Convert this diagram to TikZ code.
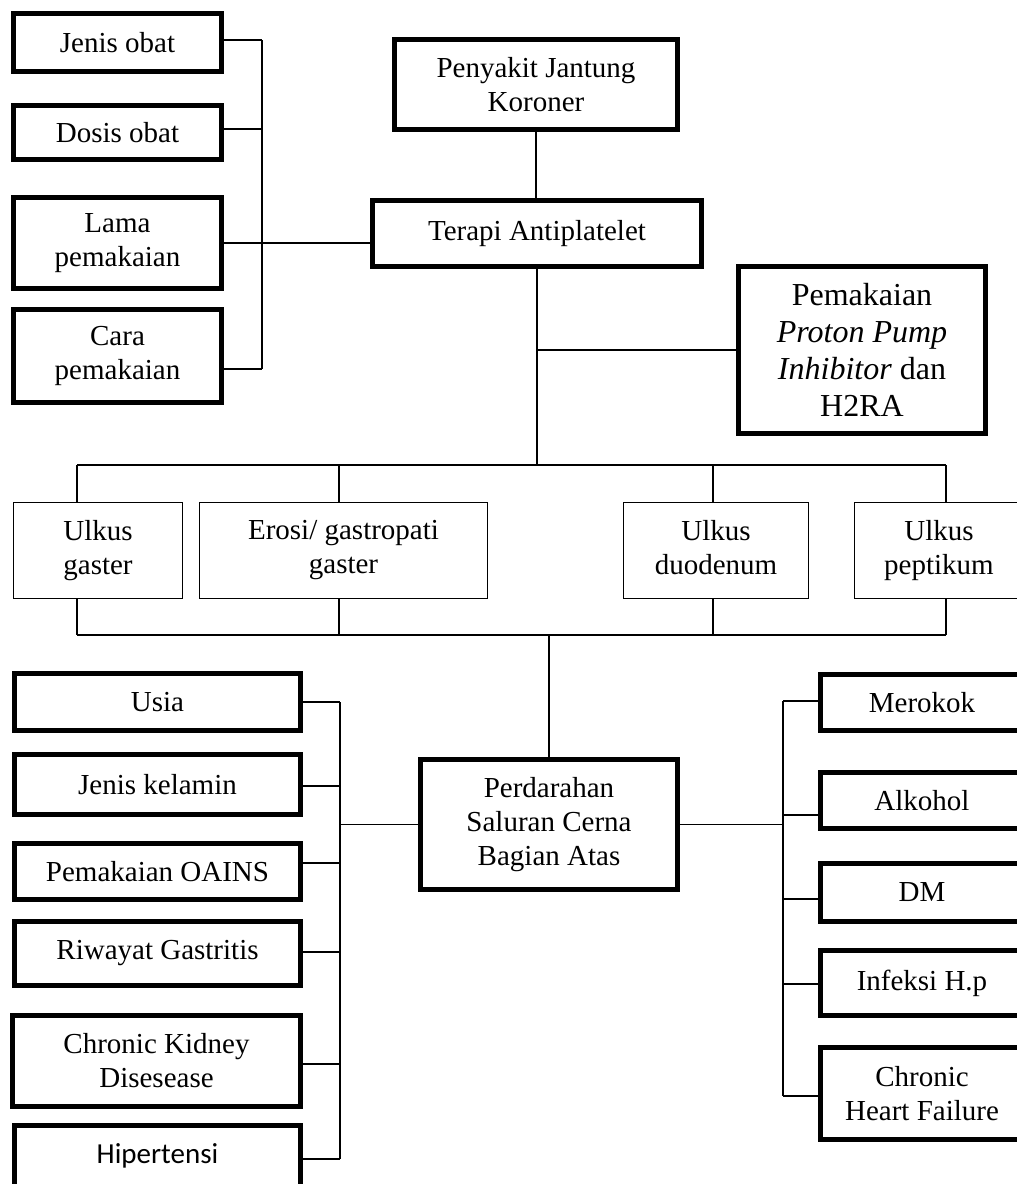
\documentclass[tikz,border=0pt]{standalone}
\usepackage{fontspec}
\setmainfont{Liberation Serif}
\newfontfamily\calibrifont{Carlito}
\usetikzlibrary{positioning, calc}

\begin{document}
\begin{tikzpicture}[
    x=1pt, y=-1pt,
    box/.style={draw, align=center, inner sep=0pt, font=\fontsize{29}{34}\selectfont},
    hbox/.style={box, line width=5pt},
    lbox/.style={box, line width=1.3pt, minimum height=96pt},
    obat/.style={hbox, minimum width=208pt},
    faktor/.style={hbox, minimum width=286pt},
    risiko/.style={hbox, minimum width=203pt},
    link/.style={line width=1.3pt},
]
    \useasboundingbox (0,0) rectangle (1017,1184);

    % Main chain
    \node[hbox, minimum width=283pt, minimum height=90pt] (pjk) at (536,84.5) {Penyakit Jantung\\Koroner};
    \node[hbox, minimum width=329pt, minimum height=66pt] (terapi) at (537,233.5) {Terapi Antiplatelet};
    \node[hbox, minimum width=247pt, minimum height=167pt, font=\fontsize{32}{37}\selectfont] (ppi) at (862,350) {Pemakaian\\\textit{Proton Pump}\\\textit{Inhibitor} dan\\H2RA};
    \node[hbox, minimum width=257pt, minimum height=130pt] (psccba) at (549,824.5) {Perdarahan\\Saluran Cerna\\Bagian Atas};

    % Drug use
    \node[obat, minimum height=58pt] (jenis) at (117.5,42.5) {Jenis obat};
    \node[obat, minimum height=54pt] (dosis) at (117.5,132.5) {Dosis obat};
    \node[obat, minimum height=91pt] (lama) at (117.5,243) {Lama\\pemakaian};
    \node[obat, minimum height=93pt] (cara) at (117.5,356) {Cara\\pemakaian};

    % Lesions
    \node[lbox, minimum width=169pt] (ug) at (98,550.5) {Ulkus\\gaster};
    \node[lbox, minimum width=288pt] (erosi) at (343.5,550.5) {Erosi/ gastropati\\gaster};
    \node[lbox, minimum width=185pt] (ud) at (716,550.5) {Ulkus\\duodenum\vphantom{g}};
    \node[lbox, minimum width=169pt] (up) at (939,550.5) {Ulkus\\peptikum};

    % Risk factors, left
    \node[faktor, minimum height=57pt] (usia) at (157.5,702) {Usia};
    \node[faktor, minimum height=60pt] (jk) at (157.5,784.5) {Jenis kelamin};
    \node[faktor, minimum height=56pt] (oains) at (157.5,871.5) {Pemakaian OAINS};
    \node[faktor, minimum height=64pt] (riwayat) at (157.5,953.5) {Riwayat Gastritis};
    \node[faktor, minimum width=288pt, minimum height=91pt] (ckd) at (156.5,1061) {Chronic Kidney\\Disesease};
    \node[faktor, minimum height=62pt, font=\calibrifont\fontsize{29}{34}\selectfont] (hip) at (157.5,1156) {Hipertensi};

    % Risk factors, right
    \node[risiko, minimum height=56pt] (merokok) at (922,702.5) {Merokok};
    \node[risiko, minimum height=56pt] (alkohol) at (922,800.5) {Alkohol};
    \node[risiko, minimum height=58pt] (dm) at (922,892.5) {DM};
    \node[risiko, minimum height=65pt] (hp) at (922,983) {Infeksi H.p};
    \node[risiko, minimum height=92pt] (chf) at (922,1093.5) {Chronic\\Heart Failure};

    % Buses
    \coordinate (obat bus) at (262,0);
    \coordinate (top bus) at (0,465);
    \coordinate (bot bus) at (0,635);
    \coordinate (left bus) at (340,0);
    \coordinate (right bus) at (783,0);

    % Top connectors
    \draw[link] (pjk.south) -- (pjk.south |- terapi.north);
    \foreach \n/\dy in {jenis/2.5, dosis/3.5, lama/0, cara/-13}
        \draw[link] ([yshift=\dy pt]\n.east) -- ([yshift=\dy pt]\n.east -| obat bus);
    \draw[link] ([yshift=2.5pt]jenis.east -| obat bus) -- ([yshift=-13pt]cara.east -| obat bus);
    \draw[link] (lama.east) -- (lama.east -| terapi.west);
    \draw[link] (terapi.south) -- (terapi.south |- top bus);
    \draw[link] (ppi.west) -- (ppi.west -| terapi.south);

    % Lesion connectors
    \foreach \n/\dx in {ug/-21, erosi/-4.5, ud/-3, up/7} {
        \draw[link] ([xshift=\dx pt]\n.north) -- ([xshift=\dx pt]\n.north |- top bus);
        \draw[link] ([xshift=\dx pt]\n.south) -- ([xshift=\dx pt]\n.south |- bot bus);
    }
    \draw[link] ([xshift=-21pt]ug.north |- top bus) -- ([xshift=7pt]up.north |- top bus);
    \draw[link] ([xshift=-21pt]ug.south |- bot bus) -- ([xshift=7pt]up.south |- bot bus);
    \draw[link] (psccba.north) -- (psccba.north |- bot bus);

    % Risk factor connectors
    \foreach \n/\dy in {usia/0, jk/-1.5, oains/8.5, riwayat/1.5, ckd/-3, hip/-3}
        \draw[link] ([yshift=\dy pt]\n.east) -- ([yshift=\dy pt]\n.east -| left bus);
    \draw[link] (usia.east -| left bus) -- ([yshift=-3pt]hip.east -| left bus);
    \draw[link] (psccba.west) -- (psccba.west -| left bus);
    \foreach \n/\dy in {merokok/1.5, alkohol/-14.5, dm/-6.5, hp/-1, chf/-2.5}
        \draw[link] ([yshift=\dy pt]\n.west) -- ([yshift=\dy pt]\n.west -| right bus);
    \draw[link] ([yshift=1.5pt]merokok.west -| right bus) -- ([yshift=-2.5pt]chf.west -| right bus);
    \draw[link] (psccba.east) -- (psccba.east -| right bus);
\end{tikzpicture}
\end{document}
